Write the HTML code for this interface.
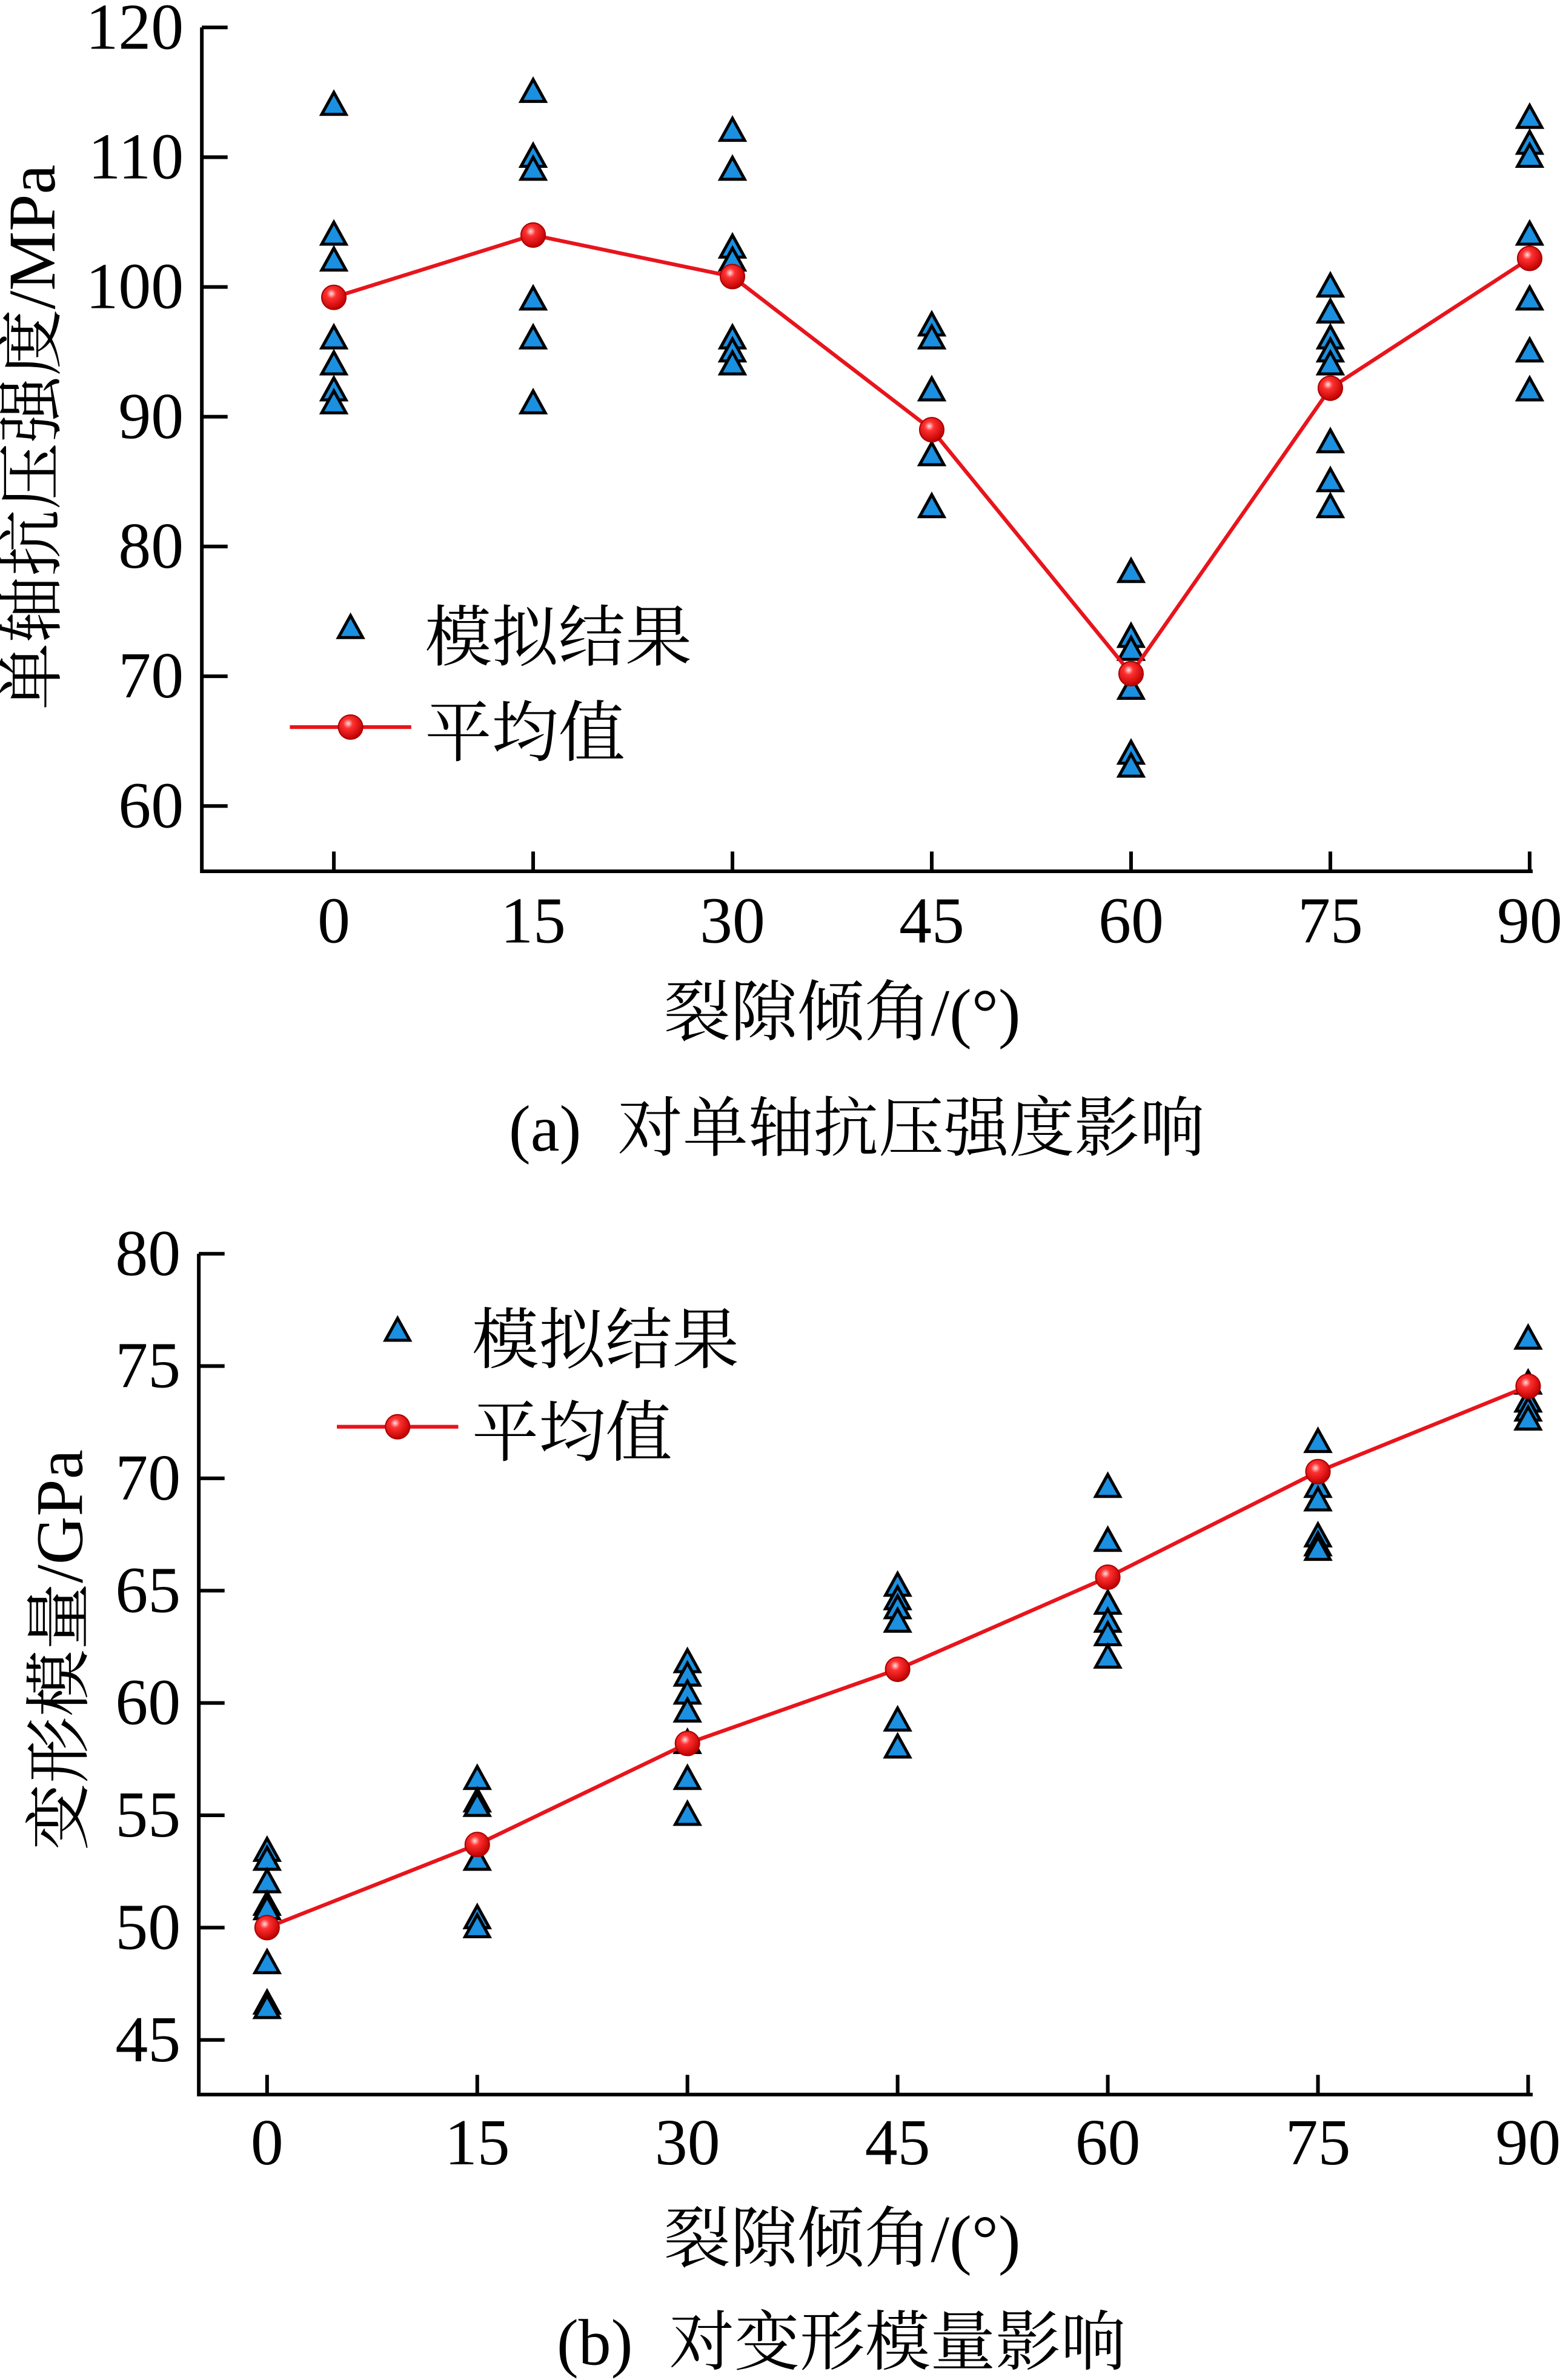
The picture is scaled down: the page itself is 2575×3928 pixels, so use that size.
<!DOCTYPE html>
<html><head><meta charset="utf-8">
<style>
html,body{margin:0;padding:0;background:#fff;}
svg{display:block;}
text{font-family:"Liberation Serif","Noto Serif CJK SC",serif;fill:#000;}
</style></head>
<body>
<svg id="chart" width="2575" height="3928" viewBox="0 0 1028 1568" xmlns="http://www.w3.org/2000/svg">
<defs>
<radialGradient id="ball" cx="0.4" cy="0.35" r="0.65">
<stop offset="0" stop-color="#ffe0e0"/><stop offset="0.3" stop-color="#ff3030"/><stop offset="1" stop-color="#c00000"/>
</radialGradient>
</defs>
<g id="root"></g>
</svg>
<script>
// Chart (a)
const anglesA = [0, 15, 30, 45, 60, 75, 90];
const simA = [
  [114, 104, 102, 96, 94, 92, 91],
  [115, 110, 109, 99, 96, 91],
  [112, 109, 103, 102, 96, 95, 94],
  [97, 96, 92, 87, 83],
  [78, 73, 72, 69, 64, 63],
  [100, 98, 96, 95, 94, 88, 85, 83],
  [113, 111, 110, 104, 99, 95, 92]
];
const meanA = [99.2, 104, 100.8, 89, 70.2, 92.2, 102.2];
const yTicksA = [60, 70, 80, 90, 100, 110, 120];
// Chart (b)
const anglesB = [0, 15, 30, 45, 60, 75, 90];
const simB = [
  [53.4, 53.0, 52.0, 51.0, 50.8, 48.4, 46.6, 46.4],
  [56.6, 55.6, 55.4, 53.0, 50.4, 50.0],
  [61.8, 61.2, 60.4, 59.6, 58.2, 56.6, 55.0],
  [65.2, 64.6, 64.2, 63.6, 59.2, 58.0],
  [69.6, 67.2, 64.4, 63.6, 63.0, 62.0],
  [71.6, 69.6, 69.0, 67.4, 67.0, 66.8],
  [76.2, 74.2, 73.4, 73.0, 72.6]
];
const meanB = [50, 53.7, 58.2, 61.5, 65.6, 70.3, 74.1];
const yTicksB = [45, 50, 55, 60, 65, 70, 75, 80];
const xTicks = [0, 15, 30, 45, 60, 75, 90];

const NS = "http://www.w3.org/2000/svg";
const root = document.getElementById('root');
function mk(tag, attrs, parent) {
  const e = document.createElementNS(NS, tag);
  for (const k in attrs) e.setAttribute(k, attrs[k]);
  (parent || root).appendChild(e);
  return e;
}
function tri(g, x, y) {
  const p = mk('polygon', {points: `${x},${y-8.5} ${x-8},${y+6} ${x+8},${y+6}`, fill: '#1b8fe0', stroke: '#000', 'stroke-width': 2}, g);
  
  
}
function ball(g, x, y) {
  const c = mk('circle', {cx: x, cy: y, r: 8, fill: 'url(#ball)', stroke: '#a00', 'stroke-width': 0.8}, g);
  
  
}

function drawChart(cfg) {
  const g = mk('g', {});
  
  
  const {left, right, bottom, top, x0, x90, yLo, yLoV, yHi, yHiV} = cfg;
  const sx = v => x0 + (x90 - x0) * v / 90;
  const sy = v => yLo + (yHi - yLo) * (v - yLoV) / (yHiV - yLoV);
  const ax = mk('path', {d: `M${left},${top} V${bottom} H${right}`, fill: 'none', stroke: '#000', 'stroke-width': 2.4}, g);
  
  
  cfg.yTicks.forEach(v => {
    const y = sy(v);
    mk('line', {x1: left, x2: left + 17, y1: y, y2: y, stroke: '#000', 'stroke-width': 2.4}, g);
    const t = mk('text', {x: left - 12, y: y + 14, 'font-size': 43, 'text-anchor': 'end'}, g);
    t.textContent = v;
    
    
  });
  xTicks.forEach(v => {
    const x = sx(v);
    mk('line', {x1: x, x2: x, y1: bottom, y2: bottom - 13, stroke: '#000', 'stroke-width': 2.4}, g);
    const t = mk('text', {x: x, y: cfg.xLabelY, 'font-size': 43, 'text-anchor': 'middle'}, g);
    t.textContent = v;
    
    
  });
  cfg.sim.forEach((arr, i) => arr.forEach(v => tri(g, sx(cfg.angles[i]), sy(v))));
  const line = mk('polyline', {points: cfg.mean.map((v, i) => `${sx(cfg.angles[i])},${sy(v)}`).join(' '), fill: 'none', stroke: '#e8141c', 'stroke-width': 2.5}, g);
  
  
  cfg.mean.forEach((v, i) => ball(g, sx(cfg.angles[i]), sy(v)));
  // legend
  const lg = mk('g', {}, g);
  
  
  tri(lg, cfg.legX, cfg.legY1);
  let t = mk('text', {x: cfg.legX + 49, y: cfg.legY1 + 21, 'font-size': 44}, lg);
  t.textContent = '模拟结果';
  
  
  mk('line', {x1: cfg.legX - 40, x2: cfg.legX + 40, y1: cfg.legY2, y2: cfg.legY2, stroke: '#e8141c', 'stroke-width': 2.5}, lg);
  ball(lg, cfg.legX, cfg.legY2);
  t = mk('text', {x: cfg.legX + 49, y: cfg.legY2 + 19, 'font-size': 44}, lg);
  t.textContent = '平均值';
  
  
  // titles
  t = mk('text', {x: cfg.ytX, y: cfg.ytY, 'font-size': 44, 'text-anchor': 'middle', transform: `rotate(-90 ${cfg.ytX} ${cfg.ytY})`}, g);
  t.textContent = cfg.yTitle;
  
  
  t = mk('text', {x: 555, y: cfg.xtY, 'font-size': 44, 'text-anchor': 'middle'}, g);
  t.textContent = '裂隙倾角/(°)';
  
  
  t = mk('text', {x: cfg.capX, y: cfg.capY, 'font-size': 43, 'text-anchor': 'end'}, g);
  t.textContent = cfg.capLabel;
  
  
  t = mk('text', {x: cfg.capX + 24, y: cfg.capY, 'font-size': 43}, g);
  t.textContent = cfg.caption;
  
  
}

drawChart({name: 'chart-a', left: 133, right: 1010, bottom: 574, top: 18, x0: 220, x90: 1008,
  yLo: 531, yLoV: 60, yHi: 18, yHiV: 120, yTicks: yTicksA, angles: anglesA, sim: simA, mean: meanA,
  xLabelY: 621, legX: 231, legY1: 414, legY2: 479, ytX: 36, ytY: 288, yTitle: '单轴抗压强度/MPa',
  xtY: 682, capX: 383, capY: 758, capLabel: '(a)', caption: '对单轴抗压强度影响'});
drawChart({name: 'chart-b', left: 131, right: 1010, bottom: 1380, top: 826, x0: 176, x90: 1007,
  yLo: 1344, yLoV: 45, yHi: 826, yHiV: 80, yTicks: yTicksB, angles: anglesB, sim: simB, mean: meanB,
  xLabelY: 1426, legX: 262, legY1: 877, legY2: 940, ytX: 54, ytY: 1087, yTitle: '变形模量/GPa',
  xtY: 1490, capX: 417, capY: 1558, capLabel: '(b)', caption: '对变形模量影响'});
</script>
</body></html>
